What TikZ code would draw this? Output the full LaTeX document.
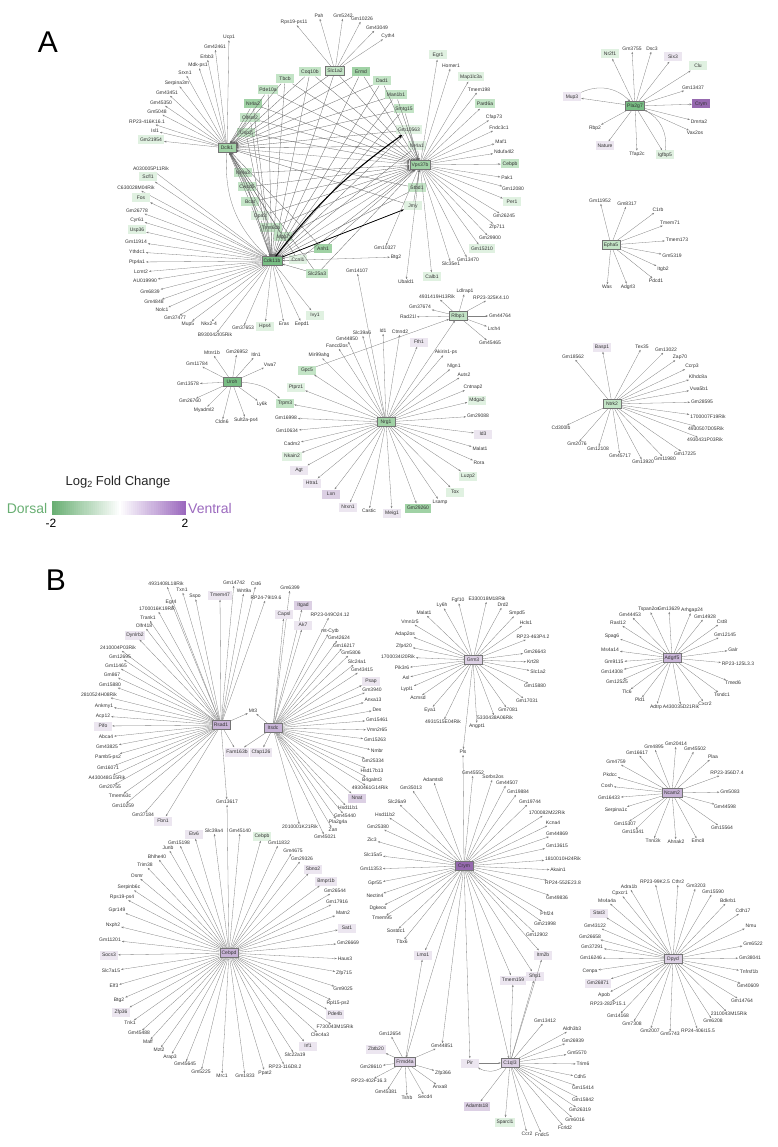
\documentclass[tikz,border=0pt]{standalone}
\usepackage{fontspec}
\setmainfont{Liberation Sans}
\usetikzlibrary{arrows.meta}
\definecolor{gA}{RGB}{120,190,132}
\definecolor{gB}{RGB}{160,210,165}
\definecolor{gC}{RGB}{195,228,198}
\definecolor{gD}{RGB}{224,241,225}
\definecolor{pA}{RGB}{150,105,175}
\definecolor{pB}{RGB}{200,180,215}
\definecolor{pC}{RGB}{220,208,228}
\definecolor{pD}{RGB}{236,230,240}
\definecolor{dors}{RGB}{105,175,115}
\definecolor{vent}{RGB}{155,105,190}
\tikzset{
 tx/.style={font=\fontsize{5}{6}\selectfont, text=black!80, inner sep=0.8pt},
 bx/.style={tx, minimum width=18pt, minimum height=9pt, inner sep=1.8pt},
 ga/.style={bx, fill=gA}, gb/.style={bx, fill=gB}, gc/.style={bx, fill=gC}, gd/.style={bx, fill=gD},
 pa/.style={bx, fill=pA}, pb/.style={bx, fill=pB}, pc/.style={bx, fill=pC}, pd/.style={bx, fill=pD},
 hub/.style={draw=black!55, line width=0.3pt},
 edge/.style={draw=black!50, line width=0.3pt, -{Stealth[length=2.4pt,width=1.8pt]}},
 meshedge/.style={draw=black!60, line width=0.3pt, -{Stealth[length=2.4pt,width=1.8pt]}},
 letter/.style={font=\fontsize{30}{32}\selectfont},
}
\newcommand\starnet[2]{\foreach \px/\py/\lab/\sty [count=\nn] in {#2}{\node[\sty] (#1-\nn) at (\px,\py) {\lab};
 \draw[edge] (#1) -- (#1-\nn);}}
\newcommand\edg[3][edge]{\draw[#1] (#2) -- (#3);}
\begin{document}
\begin{tikzpicture}[x=1pt,y=-1pt]
\useasboundingbox (0,0) rectangle (777,1147);
\node[letter] (LA) at (48,42) {A};
\node[letter] (LB) at (56,580) {B};
% ================= PANEL A =================
\node[gb,hub] (Dclk1) at (227,148) {Dclk1};
\node[ga,hub] (Cdk11b) at (272,261) {Cdk11b};
\node[gb,hub] (Vps37b) at (420,165) {Vps37b};
\node[gc,hub] (Slc1a2) at (335,71) {Slc1a2};
\foreach \px/\py/\lab/\sty in {310/72/Coq10b/gc, 285/79/Tbcb/gc, 268/90/Pde10a/gc, 253/104/Nr4a2/gb,
 250/118/Olfscr2/gc, 246/133/Usp2/gc, 243/173/Nr4a3/gc, 247/187/Cwcd5/gc, 250/202/Bcat/gc,
 260/216/Opa3/gd, 271/228/Trmt61b/gc, 283/237/Mpp7/gc, 298/260/Ccnl1/gd, 323/249/Anh1/gb,
 317/274/Slc25a3/gc, 361/72/Ermd/gb, 382/81/Dad1/gc, 396/95/Man1b1/gc, 404/109/Smtg15/gc,
 409/130/Gm10563/gd, 417/146/Nr4a1/gd, 417/188/Stbd1/gc, 413/206/Jmy/gd}
 {\node[\sty] (\lab) at (\px,\py) {\lab};}
\foreach \s in {Coq10b,Tbcb,Pde10a,Nr4a2,Olfscr2,Usp2,Nr4a3,Cwcd5,Bcat,Opa3,Trmt61b,Mpp7,Ccnl1,Anh1,Slc25a3,Slc1a2,Ermd,Dad1,Man1b1,Smtg15,Gm10563,Nr4a1,Stbd1,Jmy}
 {\foreach \h in {Dclk1,Cdk11b,Vps37b}{\edg[meshedge]{\s}{\h}}}
\edg{Dclk1}{Vps37b}
\edg{Vps37b}{Cdk11b}
\draw[edge] (Dclk1) to[bend right=25] (Cdk11b);
\draw[black, line width=1.1pt, -{Stealth[length=4pt,width=3pt]}] (Cdk11b) to[bend left=8] (Gm10563);
\draw[black, line width=0.7pt, -{Stealth[length=3pt,width=2.4pt]}] (Cdk11b) -- (Jmy);
\starnet{Dclk1}{229/37/Ucp1/tx, 215/47/Gm42461/tx, 207/57/Erbb3/tx, 198/65/Mdk-ps1/tx, 185/73/Srxn1/tx,
 177/83/Serpina3m/tx, 167/93/Gm43451/tx, 161/103/Gm45350/tx, 157/112/Gm5048/tx,
 147/122/RP23-416K16.1/tx, 155/131/Isl1/tx, 151/140/Gm21954/gd}
\starnet{Cdk11b}{151/169/A030005P11Rik/tx, 148/177/Scfl1/gd, 136/188/C630028M04Rik/tx, 141/198/Fos/gd,
 137/211/Gm26778/tx, 137/220/Cyr61/tx, 137/230/Usp36/gd, 136/242/Gm11914/tx, 137/252/Ythdc1/tx,
 137/262/Ptp4a1/tx, 141/272/Lcmt2/tx, 145/281/AU019990/tx, 150/292/Gm6839/tx, 154/302/Gm4848/tx,
 162/310/Nolc1/tx, 175/318/Gm37477/tx, 188/324/Mup5/tx, 209/324/Nkx2-4/tx, 215/335/B930042I05Rik/tx,
 243/328/Gm37653/tx, 265/326/Hps4/gd, 284/324/Eras/tx, 302/324/Eepd1/tx, 315/315/Ivy1/gd, 396/257/Btg2/tx}
\starnet{Vps37b}{438/55/Egr1/gd, 451/66/Homer1/tx, 471/77/Map1lc3a/gd, 479/90/Tmem198/tx, 485/104/Pard6a/gc,
 494/117/Cfap73/tx, 499/128/Fndc3c1/tx, 501/142/Maf1/tx, 504/152/Ndufa4l2/tx, 510/164/Cebpb/gc,
 507/178/Pak1/tx, 513/189/Gm12080/tx, 512/202/Per1/gd, 504/216/Gm26245/tx, 497/227/Zfp711/tx,
 490/238/Gm29900/tx, 482/249/Gm15210/gd, 468/260/Gm13470/tx, 451/264/Slc35e1/tx, 432/277/Calb1/gd,
 406/282/Ubald1/tx, 385/248/Gm10327/tx}
\starnet{Slc1a2}{294/22/Rps19-ps11/tx, 319/16/Pah/tx, 343/16/Gm5242/tx, 362/19/Gm10226/tx, 377/28/Gm43049/tx, 388/36/Cyth4/tx}
\node[gc,hub] (Rlbp1) at (458,316) {Rlbp1};
\node[gb,hub] (Nrg1) at (386,422) {Nrg1};
\node[ga,hub] (Uroh) at (232,382) {Uroh};
\node[gc] (Trpm3) at (285,403) {Trpm3};
\node[gc] (Gpc5) at (307,370) {Gpc5};
\starnet{Rlbp1}{465/291/Ldlrap1/tx, 437/297/4931419H13Rik/tx, 491/298/RP23-325K4.10/tx, 420/307/Gm37674/tx,
 408/317/Rad21l/tx, 500/316/Gm44764/tx, 494/329/Lrch4/tx, 490/343/Gm45465/tx}
\starnet{Nrg1}{362/333/Slc39a6/tx, 383/331/Id1/tx, 400/332/Ctnnd2/tx, 347/339/Gm44850/tx, 337/346/Fancd2os/tx,
 319/355/Mir99ahg/tx, 296/387/Ptprz1/gd, 286/418/Gm16998/tx, 287/431/Gm10634/tx, 292/444/Cadm2/tx,
 292/456/Nkain2/gd, 299/470/Agt/pd, 312/483/Htra1/pd, 331/494/Lxn/pc, 348/507/Nrxn1/pd, 369/511/Castic/tx,
 392/513/Meig1/pd, 418/508/Gm29260/gb, 440/502/Lsamp/tx, 455/492/Tox/gd, 468/476/Luzp2/gd, 479/463/Rora/tx,
 480/449/Malat1/tx, 483/434/Id3/pd, 478/416/Gm29088/tx, 477/400/Mdga2/gd, 473/387/Cntnap2/tx,
 464/375/Auts2/tx, 454/366/Nlgn1/tx, 446/352/Akirin1-ps/tx, 419/342/Fth1/pd, 357/271/Gm14107/tx}
\edg{Nrg1}{Trpm3}
\edg{Nrg1}{Gpc5}
\edg{Gpc5}{Rlbp1}
\edg{Nrg1}{Rlbp1}
\starnet{Uroh}{212/353/Mtnr1b/tx, 237/352/Gm26952/tx, 256/355/Itln1/tx, 270/365/Vwa7/tx, 197/364/Gm11784/tx,
 188/384/Gm13578/tx, 190/401/Gm26760/tx, 204/410/Myadml2/tx, 222/422/Cldn6/tx, 246/420/Sult2a-ps4/tx,
 262/404/Ly6k/tx}
\draw[edge] (Uroh) to[bend left=20] (Trpm3);
\node[ga,hub] (Pla2g7) at (635,106) {Pla2g7};
\starnet{Pla2g7}{610/54/Nr2f1/gd, 632/49/Gm3755/tx, 652/49/Dsc3/tx, 673/57/Six3/pd, 698/66/Clu/gd,
 693/88/Gm13437/tx, 701/104/Crym/pa, 699/122/Dmrta2/tx, 695/133/Vax2os/tx, 665/155/Igfbp5/gd,
 637/154/Tfap2c/tx, 605/146/Nature/pd, 595/128/Rbp2/tx, 572/97/Mup3/pd}
\draw[edge] (Pla2g7-14) to[bend left=35] (Pla2g7);
\draw[edge] (Pla2g7-10) to[bend right=35] (Pla2g7);
\node[gc,hub] (Epha5) at (611,245) {Epha5};
\starnet{Epha5}{600/201/Gm11952/tx, 627/204/Gm8317/tx, 658/210/C1rb/tx, 670/223/Tmem71/tx, 677/240/Tmem173/tx,
 672/256/Gm5319/tx, 663/269/Itgb2/tx, 656/281/Pdcd1/tx, 628/287/Adgrl3/tx, 607/287/Was/tx}
\node[gc,hub] (Ntrk2) at (612,404) {Ntrk2};
\starnet{Ntrk2}{602/347/Basp1/pd, 573/357/Gm18562/tx, 642/347/Tex35/tx, 666/350/Gm13022/tx, 680/357/Zap70/tx,
 692/366/Ccrp3/tx, 698/377/Klhdc8a/tx, 699/389/Vwa5b1/tx, 702/402/Gm28595/tx, 708/417/1700007F19Rik/tx,
 706/429/4930507D05Rik/tx, 705/440/4930431P03Rik/tx, 685/454/Gm17225/tx, 665/459/Gm11980/tx,
 643/462/Gm13920/tx, 620/456/Gm45717/tx, 598/449/Gm12108/tx, 577/444/Gm2076/tx, 561/428/Cd300lb/tx}
% legend
\node[font=\fontsize{13}{15}\selectfont, text=black!85] (lgT) at (118,482) {Log\raisebox{-0.35ex}{\fontsize{9}{10}\selectfont 2} Fold Change};
\foreach \k in {0,...,65}{
 \pgfmathsetmacro\pa{\k<33 ? 100*\k/33 : 100}
 \pgfmathsetmacro\pb{\k<33 ? 0 : 100*(\k-33)/32}
 \ifdim\k pt<33pt \colorlet{bar}{white!\pa!dors}\else\colorlet{bar}{vent!\pb!white}\fi
 \fill[bar] (52+\k*2.03,501) rectangle (54.2+\k*2.03,515);}
\node[font=\fontsize{14}{16}\selectfont, text=dors] (lgD) at (27,508) {Dorsal};
\node[font=\fontsize{14}{16}\selectfont, text=vent] (lgV) at (210,508) {Ventral};
\node[font=\fontsize{12}{14}\selectfont] (lgm) at (51,523) {-2};
\node[font=\fontsize{12}{14}\selectfont] (lgp) at (185,523) {2};
% ================= PANEL B =================
\node[pb,hub] (Rsad1) at (221,725) {Rsad1};
\node[pb,hub] (Itsdc) at (273,728) {Itsdc};
\node[tx] (Mt3) at (253,711) {Mt3};
\node[pd] (Fam163b) at (237,752) {Fam163b};
\node[pd] (Cfap126) at (261,752) {Cfap126};
\node[tx] (Gm13617) at (227,802) {Gm13617};
\edg{Rsad1}{Mt3}\edg{Itsdc}{Mt3}\edg{Rsad1}{Fam163b}\edg{Itsdc}{Fam163b}\edg{Itsdc}{Cfap126}\edg{Rsad1}{Gm13617}
\starnet{Rsad1}{166/584/4931408L18Rik/tx, 234/583/Gm14742/tx, 182/590/Txn1/tx, 195/596/Sspo/tx, 220/595/Tmem47/pd,
 244/591/Wnt9a/tx, 256/584/Cst6/tx, 266/598/RP24-79I19.6/tx, 171/602/Egr4/tx, 157/609/1700016K19Rik/tx,
 148/618/Trank1/tx, 144/626/Olfr418/tx, 135/635/Dynlrb2/pd, 118/648/2410004P03Rik/tx, 120/657/Gm12695/tx,
 116/666/Gm11465/tx, 112/675/Gm867/tx, 110/685/Gm15880/tx, 99/695/2810524H08Rik/tx, 104/706/Ankmy1/tx,
 103/716/Acp12/tx, 103/726/Pifo/pd, 106/737/Abca4/tx, 107/747/Gm43825/tx, 108/757/Pamb5-ps2/tx,
 108/768/Gm16071/tx, 107/778/A430048G15Rik/tx, 110/787/Gm20755/tx, 120/796/Tmem63c/tx, 123/806/Gm10259/tx,
 143/815/Gm37184/tx, 163/821/Fbn1/pd}
\starnet{Itsdc}{290/588/Gm6399/tx, 284/614/Capsl/pd, 303/605/Itgad/pc, 303/625/Ak7/pd, 330/615/RP23-049O24.12/tx,
 330/631/mt-Cytb/tx, 339/638/Gm42624/tx, 344/646/Gm16217/tx, 351/653/Gm5806/tx, 357/662/Slc24a1/tx,
 362/670/Gm43415/tx, 371/681/Psap/pd, 372/690/Gm3940/tx, 373/700/Anxa13/tx, 377/710/Des/tx, 377/720/Gm15461/tx,
 377/730/Vmn2r65/tx, 375/740/Gm15263/tx, 377/751/Nmbr/tx, 373/761/Gm25334/tx, 372/771/Hsd17b13/tx,
 372/780/B4galnt3/tx, 370/788/4930461G14Rik/tx, 357/798/Nnat/pc, 348/808/Hsd11b1/tx, 345/816/Gm45440/tx,
 338/822/Pla2g4a/tx, 333/830/Zan/tx, 325/837/Gm45021/tx, 300/827/2010001K21Rik/tx}
\node[pc,hub] (Grm3) at (473,660) {Grm3};
\starnet{Grm3}{424/613/Malat1/tx, 442/605/Ly6h/tx, 458/600/Fgf10/tx, 487/599/E330018M18Rik/tx, 503/605/Drd2/tx,
 517/613/Smpd5/tx, 526/623/Hcls1/tx, 533/637/RP23-463P4.2/tx, 535/652/Gm26643/tx, 533/662/Krt28/tx,
 538/672/Slc1a2/tx, 535/686/Gm15880/tx, 527/701/Gm17031/tx, 508/710/Gm7081/tx, 495/718/5330438A06Rik/tx,
 477/726/Angpt1/tx, 443/722/4931515E04Rik/tx, 430/710/Eya1/tx, 418/698/Acmsd/tx, 407/689/Lypl1/tx,
 406/678/Asl/tx, 402/668/Pik3r6/tx, 398/657/1700034I20Rik/tx, 404/646/Zfp420/tx, 405/634/Adap2os/tx,
 410/622/Vmn1r5/tx}
\node[pb,hub] (Adgrf5) at (672,658) {Adgrf5};
\starnet{Adgrf5}{649/609/Tspan2os/tx, 669/609/Gm13629/tx, 692/610/Arhgap24/tx, 705/617/Gm14928/tx, 722/622/Cst8/tx,
 725/635/Gm12145/tx, 733/650/Galr/tx, 738/664/RP23-125L3.3/tx, 733/683/Tmed6/tx, 722/695/Tsndc1/tx,
 705/704/Cxcr2/tx, 656/707/Adtrp/tx, 681/707/A430035D21Rik/tx, 640/700/Pld1/tx, 627/692/Tlc6/tx,
 617/682/Gm12525/tx, 612/672/Gm14308/tx, 614/662/Gm9115/tx, 610/650/Ms4a14/tx, 612/636/Spag6/tx,
 618/623/Rasl12/tx, 630/615/Gm44453/tx}
\node[pb,hub] (Ncam2) at (672,793) {Ncam2};
\starnet{Ncam2}{654/747/Gm4895/tx, 676/744/Gm20414/tx, 695/749/Gm45502/tx, 713/757/Plaa/tx, 727/773/RP23-356D7.4/tx,
 730/792/Gm5083/tx, 725/807/Gm44598/tx, 722/828/Gm15564/tx, 698/841/Emc8/tx, 676/842/Ahnak2/tx,
 653/841/Tnni3k/tx, 633/832/Gm15341/tx, 625/824/Gm15307/tx, 616/810/Serpina1c/tx, 609/798/Gm16433/tx,
 607/786/Cosh/tx, 610/775/Pkdcc/tx, 616/762/Gm4759/tx, 637/753/Gm16617/tx}
\node[pc,hub] (Dpyd) at (673,959) {Dpyd};
\starnet{Dpyd}{629/887/Adra1b/tx, 655/882/RP23-99K2.5/tx, 678/882/Cthr2/tx, 696/886/Gm3203/tx, 713/892/Gm15590/tx,
 728/901/Bdkrb1/tx, 743/911/Cdh17/tx, 751/926/Nmu/tx, 753/944/Gm6522/tx, 750/958/Gm38041/tx,
 749/972/Tnfrsf1b/tx, 748/986/Gm40609/tx, 742/1001/Gm14764/tx, 729/1014/2310043M15Rik/tx, 713/1021/Gm6208/tx,
 698/1031/RP24-406I15.5/tx, 670/1034/Gm5743/tx, 650/1031/Gm2007/tx, 632/1024/Gm7308/tx, 618/1016/Gm14168/tx,
 608/1004/RP23-282P15.1/tx, 604/995/Apob/tx, 598/983/Gm26871/pd, 590/971/Cenpa/tx, 591/958/Gm16246/tx,
 592/947/Gm37291/tx, 590/937/Gm26658/tx, 595/926/Gm43122/tx, 599/913/Stat3/pd, 607/901/Ms4a4a/tx,
 620/893/Cpxcr1/tx}
\node[pb,hub] (Cebpd) at (229,953) {Cebpd};
\edg{Cebpd}{Gm13617}
\starnet{Cebpd}{194/834/Etv6/pd, 214/831/Slc39a4/tx, 240/831/Gm45140/tx, 262/836/Cebpb/gd, 279/843/Gm11832/tx,
 293/851/Gm4675/tx, 302/859/Gm29326/tx, 313/869/Sbno2/pd, 326/881/Bmpr1b/pd, 335/891/Gm26544/tx,
 337/902/Gm17916/tx, 343/913/Matn2/tx, 347/928/Sat1/pd, 348/943/Gm26669/tx, 345/959/Haus3/tx,
 344/973/Zfp715/tx, 343/989/Gm9025/tx, 338/1003/Rpl15-ps2/tx, 335/1014/Pde4b/pd, 335/1027/F730043M15Rik/tx,
 320/1035/Clec4a3/tx, 308/1046/Irf1/pd, 295/1055/Slc22a19/tx, 285/1067/RP23-116D8.2/tx, 265/1073/Ppat2/tx,
 245/1076/Gm1833/tx, 222/1076/Mrc1/tx, 201/1072/Gm5225/tx, 185/1064/Gm45645/tx, 170/1057/Arap3/tx,
 159/1050/Mzt2/tx, 148/1042/Maff/tx, 139/1033/Gm45488/tx, 130/1023/Tnk1/tx, 121/1012/Zfp36/pd,
 119/1000/Btg2/tx, 114/986/Elf3/tx, 111/971/Slc7a15/tx, 109/955/Socs3/pd, 110/940/Gm11201/tx,
 113/925/Nxph2/tx, 117/910/Gpr149/tx, 122/897/Rps19-ps4/tx, 129/887/Serpinb6c/tx, 137/876/Osmr/tx,
 145/865/Trim38/tx, 157/857/Bhlhe40/tx, 168/848/Junb/tx, 179/843/Gm15198/tx}
\node[pa,hub] (CrymB) at (464,866) {Crym};
\node[tx] (Pls) at (463,752) {Pls};
\edg{Grm3}{Pls}\edg{CrymB}{Pls}
\node[pc,hub] (Frmd4a) at (405,1062) {Frmd4a};
\node[pc,hub] (C1ql3) at (510,1063) {C1ql3};
\node[pd] (Pir) at (470,1063) {Pir};
\node[tx] (Gm44851) at (442,1046) {Gm44851};
\node[pd] (Lmo1) at (423,955) {Lmo1};
\node[pd] (Itm2b) at (543,955) {Itm2b};
\node[pd] (Sfrp1) at (535,976) {Sfrp1};
\node[pd] (Tmem159) at (513,980) {Tmem159};
\foreach \t in {Frmd4a,C1ql3,Pir,Gm44851,Lmo1,Itm2b,Sfrp1,Tmem159}{\edg{CrymB}{\t}}
\edg{Frmd4a}{Gm44851}\edg{Frmd4a}{Lmo1}\edg{C1ql3}{Sfrp1}\edg{C1ql3}{Tmem159}\edg{C1ql3}{Itm2b}\edg{Pir}{C1ql3}
\draw[edge] (C1ql3) to[bend left=30] (Pir);
\starnet{CrymB}{397/802/Slc26a9/tx, 385/815/Hsd11b2/tx, 378/827/Gm25380/tx, 372/840/Zic3/tx, 373/855/Slc15a5/tx,
 371/869/Gm11353/tx, 375/883/Gpr55/tx, 375/896/Nectin4/tx, 378/908/Dgkeos/tx, 382/918/Tmem95/tx,
 396/931/Sostdc1/tx, 402/942/Tbx6/tx, 433/780/Adamts8/tx, 411/788/Gm35013/tx, 473/773/Gm45552/tx,
 493/777/Sorbs2os/tx, 507/783/Gm44507/tx, 518/792/Gm19884/tx, 530/802/Gm19744/tx, 547/813/1700082M22Rik/tx,
 553/823/Kcna4/tx, 557/834/Gm44869/tx, 557/846/Gm13615/tx, 563/859/1810010H24Rik/tx, 558/870/Akain1/tx,
 563/883/RP24-552E23.8/tx, 557/898/Gm49836/tx, 547/914/Phf24/tx, 545/924/Gm21998/tx, 537/935/Gm12902/tx}
\starnet{Frmd4a}{390/1034/Gm12654/tx, 376/1049/Zbtb20/pd, 371/1067/Gm28610/tx, 369/1081/RP23-402F16.3/tx,
 386/1092/Gm45381/tx, 407/1098/Tshb/tx, 425/1097/Secd4/tx, 440/1087/Anxa8/tx, 443/1073/Zfp366/tx}
\starnet{C1ql3}{477/1106/Adamts18/pc, 505/1122/Sparcl1/gd, 527/1134/Ccr2/tx, 542/1135/Fndc5/tx, 545/1021/Gm13412/tx,
 572/1029/Aldh3b3/tx, 573/1041/Gm26939/tx, 577/1053/Gm5570/tx, 583/1064/Trim6/tx, 580/1077/Cdh5/tx,
 583/1088/Gm15414/tx, 583/1100/Gm15842/tx, 580/1110/Gm26319/tx, 575/1120/Gm6016/tx, 565/1128/Fcrld2/tx}
\end{tikzpicture}
\end{document}
